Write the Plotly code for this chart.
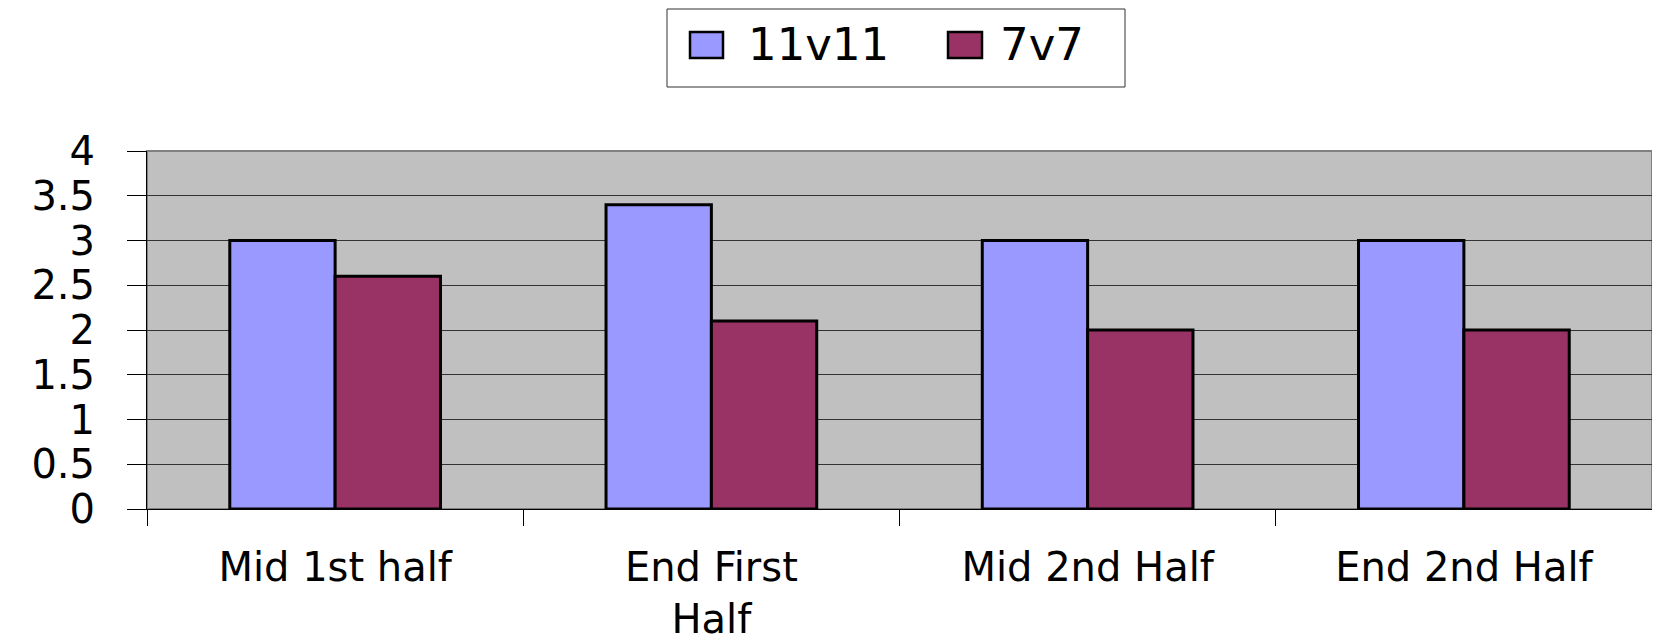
import plotly.graph_objects as go

categories = ["Mid 1st half", "End First Half", "Mid 2nd Half", "End 2nd Half"]
tick_labels = ["Mid 1st half", "End First<br>Half", "Mid 2nd Half", "End 2nd Half"]
series_names = ["11v11", "7v7"]
values_11v11 = [3.0, 3.4, 3.0, 3.0]
values_7v7 = [2.6, 2.1, 2.0, 2.0]
colors = ["#9999FF", "#993366"]

# page has an 8px body margin: figure is drawn offset by OFF
OFF = 8
W, H = 1660 - OFF, 641 - OFF
# plot area in page pixels: x 147..1652, y 151..509
L, T = 147 - OFF, 151 - OFF
R = W - (1652 - OFF)
B = H - (509 - OFF)
PW, PH = W - L - R, H - T - B


def px(x):  # page pixel -> paper
    return (x - OFF - L) / PW


def py(y):
    return (H - B - (y - OFF)) / PH


FONT = "DejaVu Sans"

fig = go.Figure()
for name, vals, col in zip(series_names, [values_11v11, values_7v7], colors):
    fig.add_trace(go.Bar(
        x=categories, y=vals, name=name, showlegend=False,
        marker=dict(color=col, line=dict(color="black", width=3)),
    ))

# custom legend (large swatches)
shapes = [
    dict(type="rect", xref="paper", yref="paper",
         x0=px(667), x1=px(1125), y0=py(87), y1=py(9),
         line=dict(color="#333", width=1), fillcolor="white"),
    dict(type="rect", xref="paper", yref="paper", x0=0, x1=1, y0=0, y1=1,
         line=dict(color="#808080", width=2), layer="below"),
]
sw = [(690, 723), (948, 982)]
tx = [746, 998]
annotations = []
for (a, b), t, name, col in zip(sw, tx, series_names, colors):
    shapes.append(dict(type="rect", xref="paper", yref="paper",
                       x0=px(a), x1=px(b), y0=py(58), y1=py(32),
                       line=dict(color="black", width=2.5), fillcolor=col))
    annotations.append(dict(xref="paper", yref="paper", x=px(t), y=py(44),
                            xanchor="left", yanchor="middle", showarrow=False,
                            text=name, font=dict(family=FONT, size=45, color="black")))

fig.update_layout(
    width=W, height=H,
    margin=dict(l=L, r=R, t=T, b=B),
    paper_bgcolor="white", plot_bgcolor="#C0C0C0",
    barmode="group", bargap=0.44, bargroupgap=0,
    shapes=shapes, annotations=annotations,
    showlegend=False,
)
fig.update_xaxes(
    automargin=False,
    tickmode="array", tickvals=categories, ticktext=tick_labels,
    tickson="boundaries", ticks="outside", ticklen=16, tickcolor="black",
    showline=True, linecolor="black", linewidth=1, showgrid=False,
    tickfont=dict(family=FONT, size=40, color="black"),
    ticklabelstandoff=23,
)
fig.update_yaxes(
    automargin=False,
    range=[0, 4], dtick=0.5, tick0=0,
    ticks="outside", ticklen=19, tickcolor="black",
    showline=True, linecolor="black", linewidth=1,
    showgrid=True, gridcolor="#333", gridwidth=1, zeroline=False,
    tickfont=dict(family=FONT, size=40, color="black"),
    ticklabelstandoff=24,
)

fig.write_html("out.html")
